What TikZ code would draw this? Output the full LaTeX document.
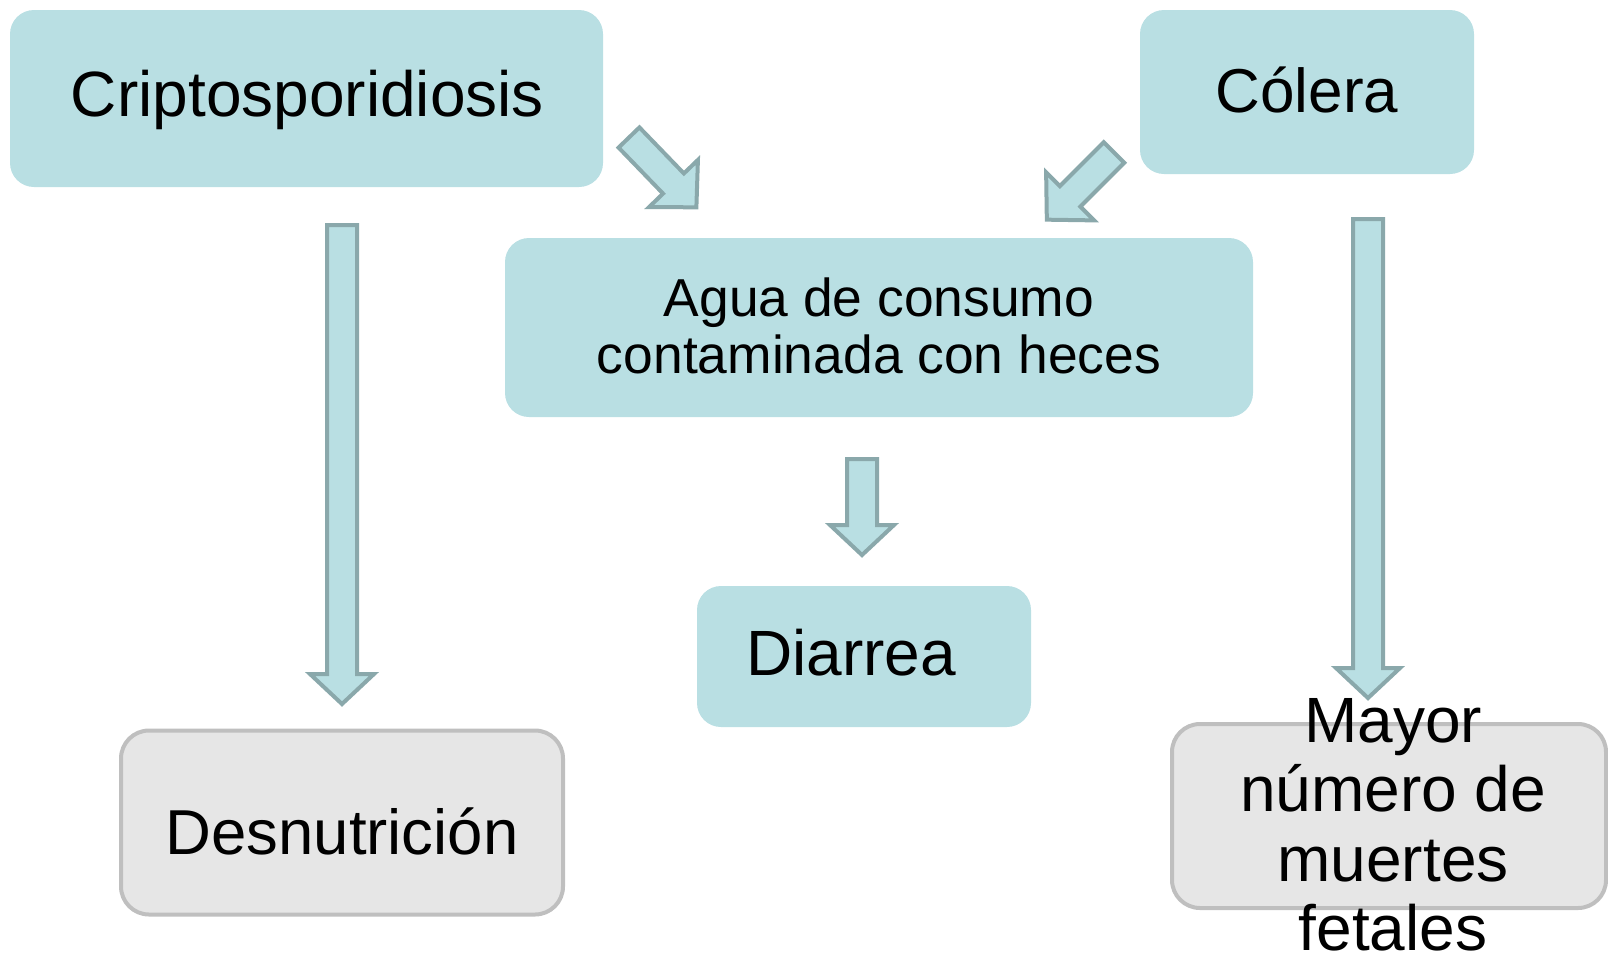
\documentclass[tikz,border=0pt]{standalone}
\usepackage{fontspec}
\setmainfont{Liberation Sans}
\definecolor{tealfill}{HTML}{B9DFE3}
\definecolor{arrowline}{HTML}{8AA8AB}
\definecolor{grayfill}{HTML}{E6E6E6}
\definecolor{grayline}{HTML}{BFBFBF}
\tikzset{
  tealbox/.style={rectangle, rounded corners=24pt, fill=tealfill, inner sep=0pt},
  graybox/.style={rectangle, rounded corners=28pt, fill=grayfill, draw=grayline, line width=4pt, inner sep=0pt},
  lbl/.style={inner sep=0pt, text=black},
  blockarrow/.style={fill=tealfill, draw=arrowline, line width=4pt, line join=miter},
}
% x y angle length shafthalf headhalf headlen
\newcommand{\blockarr}[7]{%
  \begin{scope}[shift={(#1,#2)}, rotate=#3]
    \draw[blockarrow] (0,-#5) -- ({#4-#7},-#5) -- ({#4-#7},-#6) -- (#4,0)
      -- ({#4-#7},#6) -- ({#4-#7},#5) -- (0,#5) -- cycle;
  \end{scope}}
\begin{document}
\begin{tikzpicture}[x=1pt,y=1pt]
\useasboundingbox (0,0) rectangle (1608,-954);
% boxes
\node[tealbox, minimum width=593pt, minimum height=177pt] (crypto) at (306.5,-98.5) {};
\node[tealbox, minimum width=334pt, minimum height=164pt] (colera) at (1307,-92) {};
\node[tealbox, minimum width=748pt, minimum height=179pt] (agua) at (879,-327.5) {};
\node[tealbox, minimum width=334pt, minimum height=141pt] (diarrea) at (864,-656.5) {};
\node[graybox, minimum width=442pt, minimum height=184pt] (desnut) at (342,-822.5) {};
\node[graybox, minimum width=434pt, minimum height=184pt] (mayor) at (1389,-816) {};
% texts
\node[lbl, anchor=base, font=\fontsize{64}{68}\selectfont] (crypto-t) at (307.5,-116) {Criptosporidiosis};
\node[lbl, anchor=base, font=\fontsize{62}{68}\selectfont] (colera-t) at (1307,-112) {Cólera};
\node[lbl, align=center, font=\fontsize{53.4}{57}\selectfont] (agua-t) at (879,-326) {Agua de consumo\\contaminada con heces};
\node[lbl, anchor=base, font=\fontsize{64}{68}\selectfont] (diarrea-t) at (851,-675) {Diarrea};
\node[lbl, anchor=base, font=\fontsize{63.5}{68}\selectfont] (desnut-t) at (342,-854) {Desnutrición};
\node[lbl, align=center, font=\fontsize{64}{69.5}\selectfont] (mayor-t) at (1393,-825) {Mayor\\número de\\muertes\\fetales};
% block arrows
\blockarr{342}{-225}{-90}{479}{15}{32}{30}
\blockarr{862}{-459}{-90}{96}{15}{32}{30}
\blockarr{1368}{-219}{-90}{479}{15}{32}{30}
\blockarr{629}{-137.5}{-46}{97}{14.5}{34}{33}
\blockarr{1114}{-152.5}{-135}{95}{14.5}{34}{33}
\end{tikzpicture}
\end{document}
